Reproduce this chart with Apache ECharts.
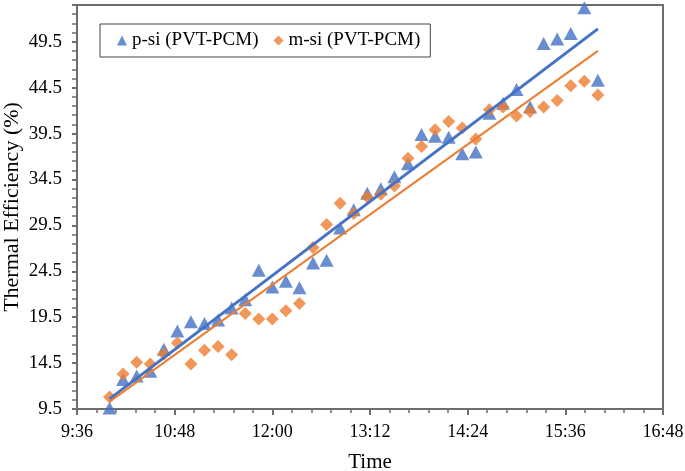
<!DOCTYPE html>
<html>
<head>
<meta charset="utf-8">
<script src="https://cdn.jsdelivr.net/npm/echarts@6/dist/echarts.min.js"></script>
<style>
  html, body { margin: 0; padding: 0; background: #fff; }
  #chart { width: 685px; height: 471px; }
</style>
</head>
<body>
<div id="chart"></div>
<script>
// readings every 10 min, 10:00 - 16:00
const times = ['10:00', '10:10', '10:20', '10:30', '10:40', '10:50', '11:00', '11:10', '11:20', '11:30',
  '11:40', '11:50', '12:00', '12:10', '12:20', '12:30', '12:40', '12:50', '13:00', '13:10',
  '13:20', '13:30', '13:40', '13:50', '14:00', '14:10', '14:20', '14:30', '14:40', '14:50',
  '15:00', '15:10', '15:20', '15:30', '15:40', '15:50', '16:00'];
const pSi = [9.6, 12.7, 13.1, 13.6, 16.0, 18.0, 19.0, 18.8, 19.2, 20.5,
  21.4, 24.6, 22.8, 23.4, 22.7, 25.4, 25.7, 29.2, 31.2, 33.0,
  33.5, 34.8, 36.2, 39.4, 39.2, 39.1, 37.3, 37.5, 41.7, 42.8,
  44.3, 42.4, 49.3, 49.8, 50.4, 53.2, 45.3];
const mSi = [10.8, 13.3, 14.6, 14.4, 15.5, 16.7, 14.4, 15.9, 16.3, 15.4,
  19.9, 19.3, 19.3, 20.2, 21.0, 27.1, 29.6, 31.9, 30.8, 32.6,
  32.9, 33.8, 36.8, 38.1, 39.9, 40.8, 40.1, 38.9, 42.1, 42.4,
  41.4, 41.9, 42.4, 43.1, 44.7, 45.2, 43.7];
// trend line end points
const pTrend = [['10:00', 10.6], ['16:00', 50.9]];
const mTrend = [['10:00', 10.3], ['16:00', 48.5]];

function toMin(s) {
  const p = s.split(':');
  return +p[0] * 60 + +p[1];
}
function fmtTime(v) {
  const h = Math.floor(v / 60), m = Math.round(v % 60);
  return h + ':' + (m < 10 ? '0' + m : m);
}

const serif = 'Liberation Serif';
const blue = '#4472C4';
const orange = '#ED7D31';

function renderChart() {
  const chart = echarts.init(document.getElementById('chart'));
  const option = {
    animation: false,
    backgroundColor: '#fff',
    grid: {
      left: 77, right: 22, top: 5, bottom: 62,
      outerBoundsMode: 'none',
      show: true,
      borderColor: '#6e6e6e',
      borderWidth: 2
    },
    legend: {
      left: 100,
      top: 24,
      data: [
        {name: 'p-si (PVT-PCM)', icon: 'triangle'},
        {name: 'm-si (PVT-PCM)', icon: 'diamond'}
      ],
      itemWidth: 10,
      itemHeight: 10,
      itemGap: 15,
      padding: [7, 10, 7, 17],
      borderColor: '#444',
      borderWidth: 1,
      backgroundColor: '#fff',
      textStyle: {fontFamily: serif, fontSize: 19, color: '#000'}
    },
    xAxis: {
      type: 'value',
      min: 576,
      max: 1008,
      interval: 72,
      name: 'Time',
      nameLocation: 'middle',
      nameGap: 43,
      nameMoveOverlap: false,
      nameTextStyle: {fontFamily: serif, fontSize: 21, color: '#000'},
      axisLine: {lineStyle: {color: '#6e6e6e', width: 2}},
      axisTick: {length: 6, lineStyle: {color: '#6e6e6e', width: 2}},
      minorTick: {show: true, splitNumber: 5, length: 4, lineStyle: {color: '#6e6e6e', width: 1.5}},
      splitLine: {show: false},
      axisLabel: {
        fontFamily: serif, fontSize: 18, color: '#000', margin: 14,
        formatter: fmtTime
      }
    },
    yAxis: {
      type: 'value',
      min: 9.5,
      max: 53.5,
      interval: 5,
      name: 'Thermal Efficiency (%)',
      nameLocation: 'middle',
      nameGap: 54,
      nameMoveOverlap: false,
      nameTextStyle: {fontFamily: serif, fontSize: 22, color: '#000'},
      axisLine: {show: true, lineStyle: {color: '#6e6e6e', width: 2}},
      axisTick: {show: true, length: 5, lineStyle: {color: '#6e6e6e', width: 2}},
      minorTick: {show: true, splitNumber: 5, length: 5, lineStyle: {color: '#6e6e6e', width: 1.5}},
      splitLine: {show: false},
      axisLabel: {
        fontFamily: serif, fontSize: 19, color: '#000', margin: 15,
        showMaxLabel: false,
        formatter: v => v.toFixed(1)
      }
    },
    series: [
      {
        name: 'p-si (PVT-PCM)',
        type: 'scatter',
        symbol: 'triangle',
        symbolSize: [14, 13],
        itemStyle: {color: blue},
        data: times.map((t, i) => [toMin(t), pSi[i]])
      },
      {
        name: 'm-si (PVT-PCM)',
        type: 'scatter',
        symbol: 'diamond',
        symbolSize: 13,
        itemStyle: {color: orange},
        data: times.map((t, i) => [toMin(t), mSi[i]])
      },
      {
        name: 'p-si trend',
        type: 'line',
        symbol: 'none',
        z: 3,
        lineStyle: {color: blue, width: 3},
        data: pTrend.map(d => [toMin(d[0]), d[1]])
      },
      {
        name: 'm-si trend',
        type: 'line',
        symbol: 'none',
        z: 3,
        lineStyle: {color: orange, width: 2},
        data: mTrend.map(d => [toMin(d[0]), d[1]])
      }
    ]
  };
  chart.setOption(option, true);
}
renderChart();
</script>
</body>
</html>
